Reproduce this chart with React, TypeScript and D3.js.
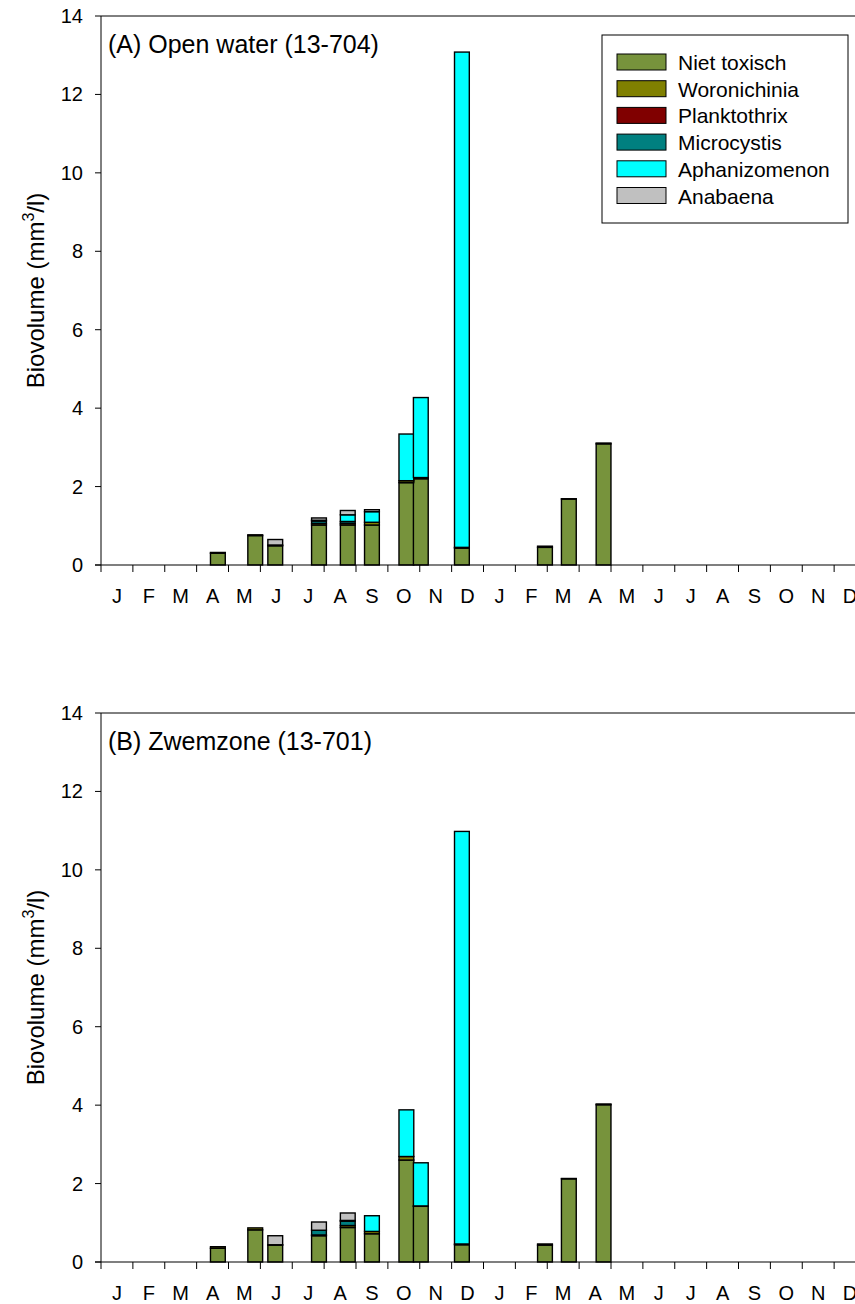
import React from "react";
import * as d3 from "d3";

// Sampling dates (two-year monitoring period)
const sampleDates = [
  "2012-04-21", "2012-05-27", "2012-06-15", "2012-07-27", "2012-08-24", "2012-09-16",
  "2012-10-19", "2012-11-02", "2012-12-11", "2013-02-27", "2013-03-22", "2013-04-24",
];

const monthLabels = ["J", "F", "M", "A", "M", "J", "J", "A", "S", "O", "N", "D",
  "J", "F", "M", "A", "M", "J", "J", "A", "S", "O", "N", "D"];

const yTicks = [0, 2, 4, 6, 8, 10, 12, 14];

const taxa = ["Niet toxisch", "Woronichinia", "Planktothrix", "Microcystis", "Aphanizomenon", "Anabaena"];
const taxaColors = ["#77933c", "#808000", "#800000", "#008080", "#00ffff", "#c0c0c0"];

// Station 13-704, open water (mm3/l) per sampling date
const openNiet = [0.30, 0.75, 0.49, 1.02, 1.02, 1.02, 2.10, 2.20, 0.43, 0.45, 1.68, 3.09];
const openWoron = [0.02, 0.02, 0.02, 0.04, 0.04, 0.07, 0.05, 0.03, 0.02, 0.03, 0.01, 0.02];
const openPlank = [0, 0, 0, 0, 0, 0, 0, 0, 0, 0, 0, 0];
const openMicro = [0, 0, 0, 0.06, 0.05, 0, 0, 0, 0, 0, 0, 0];
const openAphan = [0, 0, 0, 0.02, 0.17, 0.27, 1.19, 2.04, 12.63, 0, 0, 0];
const openAnab = [0, 0, 0.14, 0.06, 0.11, 0.05, 0, 0, 0, 0, 0, 0];

// Station 13-701, swimming zone (mm3/l) per sampling date
const swimNiet = [0.35, 0.82, 0.43, 0.67, 0.88, 0.72, 2.60, 1.42, 0.44, 0.43, 2.12, 4.01];
const swimWoron = [0.04, 0.05, 0.01, 0.02, 0.05, 0.06, 0.09, 0.01, 0.02, 0.03, 0.01, 0.02];
const swimPlank = [0, 0, 0, 0, 0, 0, 0, 0, 0, 0, 0, 0];
const swimMicro = [0, 0, 0, 0.12, 0.11, 0, 0, 0, 0, 0, 0, 0];
const swimAphan = [0, 0, 0, 0, 0.02, 0.40, 1.19, 1.10, 10.52, 0, 0, 0];
const swimAnab = [0, 0, 0.23, 0.21, 0.19, 0, 0, 0, 0, 0, 0, 0];

type Row = { pos: number; [k: string]: number };

function monthPos(s: string): number {
  const [Y, M, D] = s.split("-").map(Number);
  const dim = new Date(Y, M, 0).getDate();
  return (Y - 2012) * 12 + (M - 1) + (D - 1) / dim;
}

function buildRows(series: number[][]): Row[] {
  return sampleDates.map((d, i) => {
    const r: Row = { pos: monthPos(d) };
    taxa.forEach((t, j) => (r[t] = series[j][i]));
    return r;
  });
}

const FONT = "Arial, 'Liberation Sans', sans-serif";
const X0 = 101;
const X1 = 866;
const BAR_W = 14.8;

function Panel({ top, bottom, label, rows, legend }: {
  top: number; bottom: number; label: string; rows: Row[]; legend?: boolean;
}) {
  const x = d3.scaleLinear().domain([0, 24]).range([X0, X1]);
  const y = d3.scaleLinear().domain([0, 14]).range([bottom, top]);
  const stacked = d3.stack<Row>().keys(taxa)(rows);
  const monthTicks = d3.range(0, 25);

  return (
    <g>
      {/* bars */}
      {stacked.map((layer, li) => (
        <g key={layer.key} fill={taxaColors[li]} stroke="#000" strokeWidth={1.4}>
          {layer.map((seg, i) => {
            if (seg[1] - seg[0] <= 0) return null;
            return (
              <rect key={i} x={x(seg.data.pos) - BAR_W / 2} y={y(seg[1])}
                width={BAR_W} height={y(seg[0]) - y(seg[1])} />
            );
          })}
        </g>
      ))}
      {/* frame */}
      <line x1={X0} x2={X1} y1={top} y2={top} stroke="#000" strokeWidth={1} />
      <line x1={X0} x2={X0} y1={top} y2={bottom} stroke="#000" strokeWidth={1} />
      <line x1={X1} x2={X1} y1={top} y2={bottom} stroke="#000" strokeWidth={1} />
      <line x1={X0 - 6} x2={X1} y1={bottom} y2={bottom} stroke="#000" strokeWidth={1.2} />
      {/* y axis */}
      {yTicks.map((t) => (
        <g key={t}>
          <line x1={X0 - 6} x2={X0} y1={y(t)} y2={y(t)} stroke="#000" strokeWidth={1} />
          <text x={83} y={y(t) + 7} textAnchor="end" fontSize={20} fontFamily={FONT}>{t}</text>
        </g>
      ))}
      {/* x axis */}
      {monthTicks.map((m) => (
        <line key={m} x1={x(m)} x2={x(m)} y1={bottom} y2={bottom + 7} stroke="#000" strokeWidth={1} />
      ))}
      {monthLabels.map((lab, i) => (
        <text key={i} x={x(i + 0.5)} y={bottom + 38} textAnchor="middle" fontSize={20} fontFamily={FONT}>{lab}</text>
      ))}
      {/* axis title */}
      <text transform={`translate(44,${(top + bottom) / 2}) rotate(-90)`} textAnchor="middle"
        fontSize={24} fontFamily={FONT}>
        Biovolume (mm<tspan dy={-10} fontSize={16}>3</tspan><tspan dy={10}>/l)</tspan>
      </text>
      <text x={108} y={top + 37} fontSize={25} fontFamily={FONT}>{label}</text>
      {legend && (
        <g>
          <rect x={602} y={top + 19} width={246} height={188} fill="#fff" stroke="#000" strokeWidth={1} />
          {taxa.map((t, i) => (
            <g key={t} transform={`translate(0,${top + 38 + i * 26.7})`}>
              <rect x={617} y={0} width={49} height={16} fill={taxaColors[i]} stroke="#000" strokeWidth={1} />
              <text x={678} y={16} fontSize={21} fontFamily={FONT}>{t}</text>
            </g>
          ))}
        </g>
      )}
    </g>
  );
}

export default function App() {
  const openRows = buildRows([openNiet, openWoron, openPlank, openMicro, openAphan, openAnab]);
  const swimRows = buildRows([swimNiet, swimWoron, swimPlank, swimMicro, swimAphan, swimAnab]);
  return (
    <div style={{ position: "absolute", left: 0, top: 0 }}>
      <svg width={855} height={1304} style={{ display: "block", background: "#fff" }}>
        <Panel top={16} bottom={565} label="(A) Open water (13-704)" rows={openRows} legend />
        <Panel top={713} bottom={1262} label="(B) Zwemzone (13-701)" rows={swimRows} />
      </svg>
    </div>
  );
}
